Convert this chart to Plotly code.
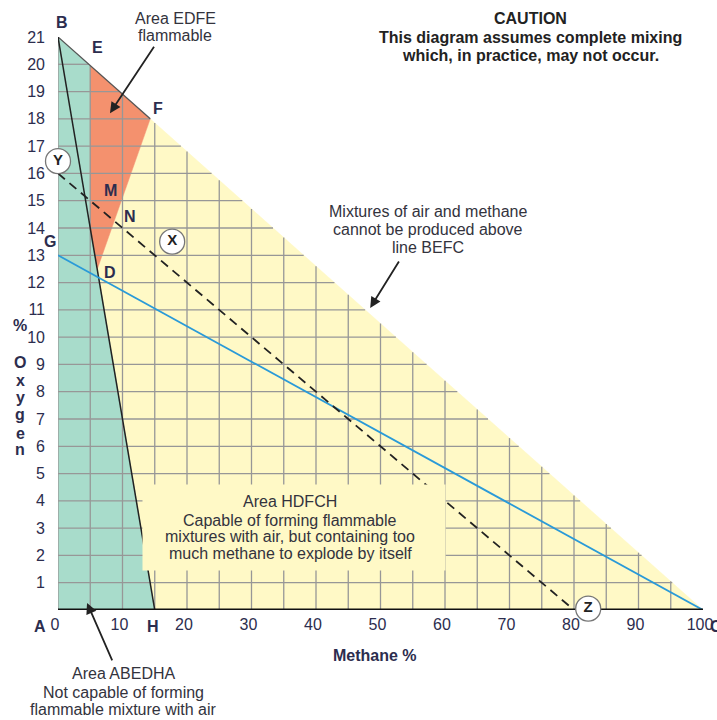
import plotly.graph_objects as go

# ---- data (Coward diagram for methane / air) ----
O2_AIR = 21.0
X_RANGE = [0, 100]
Y_RANGE = [0, 21]
x_ticks = [0, 10, 20, 30, 40, 50, 60, 70, 80, 90, 100]
x_tick_text = ["0", "10", "20", "30", "40", "50", "60", "70", "80", "90", "100"]
y_ticks = list(range(1, 22))
grid_x = list(range(0, 100, 5))
grid_y = list(range(1, 21))

green_ch4 = [0, 0, 5, 5, 6.1, 15]          # area ABEDHA
green_o2 = [0, 21, 19.95, 14, 12.5, 0]
red_ch4 = [5, 14.3, 6.1, 5]                # area EDFE
red_o2 = [19.95, 18, 12.5, 14]
yellow_ch4 = [15, 6.1, 14.3, 100]          # area HDFCH
yellow_o2 = [0, 12.5, 18, 0]
befc_ch4 = [0, 5, 14.3]                    # air line B-E-F
befc_o2 = [21, 19.95, 18]
bh_ch4 = [0, 15]                           # line B-H
bh_o2 = [21, 0]
yz_ch4 = [0, 80]                           # line Y-Z (dashed)
yz_o2 = [16, 0]
gc_ch4 = [0, 100]                          # line G-C (blue)
gc_o2 = [13, 0]
circle_labels = ["Y", "X", "Z"]
circle_ch4 = [0, 17.7, 82.2]
circle_o2 = [16.45, 13.5, 0.05]

GREEN = "#A8DCCB"
RED = "#F4916E"
YELLOW = "#FFF9C6"
GRID = "#979797"
NAVY = "#2c2d4e"
TXT = "#33333d"
FONT = "Liberation Sans, Arial, sans-serif"

# plot-area geometry in page pixels (for text placement only)
L, R, T, B = 58, 703, 37, 610

fig = go.Figure()


def poly(xs, ys, color):
    fig.add_trace(go.Scatter(x=xs + [xs[0]], y=ys + [ys[0]], mode="lines",
                             fill="toself", fillcolor=color,
                             line=dict(width=0.5, color=color),
                             hoverinfo="skip", showlegend=False, cliponaxis=False))


def line(xs, ys, color, width, dash=None):
    fig.add_trace(go.Scatter(x=xs, y=ys, mode="lines",
                             line=dict(color=color, width=width, dash=dash),
                             hoverinfo="skip", showlegend=False, cliponaxis=False))


poly(yellow_ch4, yellow_o2, YELLOW)
poly(green_ch4, green_o2, GREEN)
poly(red_ch4, red_o2, RED)

# grid clipped to the air line (max O2 = 21 at 0 % CH4, 0 at 100 %)
gx, gy = [], []
for xv in grid_x:
    gx += [xv, xv, None]
    gy += [0, O2_AIR * (1 - xv / 100), None]
for yv in grid_y:
    gx += [0, 100 * (1 - yv / O2_AIR), None]
    gy += [yv, yv, None]
line(gx, gy, GRID, 1.3)

line(befc_ch4, befc_o2, "#555", 1.3)
line(bh_ch4, bh_o2, "#222", 1.5)
line(gc_ch4, gc_o2, "#2A9AD8", 1.8)
line(yz_ch4, yz_o2, "#222", 1.8, "9px,6px")
line(X_RANGE, [Y_RANGE[0], Y_RANGE[0]], "#111", 3)   # x axis line

fig.add_trace(go.Scatter(x=circle_ch4, y=circle_o2, mode="markers+text",
                         text=[f"<b>{c}</b>" for c in circle_labels], textposition="middle center",
                         textfont=dict(family=FONT, size=15, color="#222"),
                         marker=dict(size=25, color="white", line=dict(color="#777", width=1.3)),
                         hoverinfo="skip", showlegend=False, cliponaxis=False))


def txt(text, xp, yp, size=16, color=TXT, bold=False, **kw):
    """place text centred at page pixel (xp, yp)"""
    fig.add_annotation(x=(xp - L) / (R - L), y=(B - yp) / (B - T), xref="paper", yref="paper",
                       text=f"<b>{text}</b>" if bold else text,
                       xanchor="center", yanchor="middle", showarrow=False,
                       font=dict(family=FONT, size=size, color=color), **kw)


def arrow(x_head, y_head, x_tail, y_tail):
    fig.add_annotation(x=x_head, y=y_head, ax=x_tail, ay=y_tail, axref="x", ayref="y",
                       text="", showarrow=True, arrowhead=2, arrowsize=1.2, arrowwidth=1.8,
                       arrowcolor="#222")


# point letters
for t, xp, yp in [("B", 62, 22), ("E", 97, 47), ("F", 158, 108), ("M", 110, 190),
                  ("N", 130, 216), ("D", 110, 272), ("G", 50, 241), ("A", 40, 626),
                  ("H", 153, 626), ("C", 716, 626)]:
    txt(t, xp, yp, size=16, color=NAVY, bold=True)

# text blocks
txt("Area EDFE", 175, 18)
txt("flammable", 175, 35)
arrow(8.06, 18.21, 15.04, 20.7)

txt("CAUTION", 530, 18, color="#222", bold=True)
txt("This diagram assumes complete mixing", 530, 37, color="#222", bold=True)
txt("which, in practice, may not occur.", 530, 55, color="#222", bold=True)

txt("Mixtures of air and methane", 428, 212)
txt("cannot be produced above", 428, 229)
txt("line BEFC", 428, 247)
arrow(48.4, 11.07, 53.0, 12.83)

txt(" ", 294, 527.5, bgcolor=YELLOW, width=302, height=85, borderpad=0)
txt("Area HDFCH", 290, 501.7)
txt("Capable of forming flammable", 290, 520)
txt("mixtures with air, but containing too", 290, 536.7)
txt("much methane to explode by itself", 290, 553.3)

txt("Area ABEDHA", 123, 673)
txt("Not capable of forming", 123, 692)
txt("flammable mixture with air", 123, 709)
arrow(4.5, 0.26, 8.5, -1.9)

txt("Methane %", 375, 655, color=NAVY, bold=True)
txt("%", 20, 325, color=NAVY, bold=True)
for ch, yp in zip("Oxygen", [362, 380, 397, 415, 433, 449]):
    txt(ch, 20, yp, color=NAVY, bold=True)

fig.update_layout(
    width=717, height=720,
    margin=dict(l=58, r=14, t=37, b=110),
    paper_bgcolor="white", plot_bgcolor="white",
    xaxis=dict(range=X_RANGE, tickvals=x_ticks, ticktext=x_tick_text, showgrid=False,
               zeroline=False, showline=False,
               ticks="", ticklabelstandoff=3, ticklabelshift=-3, automargin=False,
               tickfont=dict(family=FONT, size=16, color=NAVY), fixedrange=True),
    yaxis=dict(range=Y_RANGE, tickvals=y_ticks, showgrid=False, zeroline=False,
               showline=False, ticks="", ticklabelstandoff=12, automargin=False,
               tickfont=dict(family=FONT, size=16, color=NAVY), fixedrange=True),
    showlegend=False,
)

# let the 717x720 figure fill the window exactly (no default page margin / scrollbars)
fig.write_html("out.html", config={"displayModeBar": False},
               post_script="document.body.style.margin='0';document.body.style.overflow='hidden';")
